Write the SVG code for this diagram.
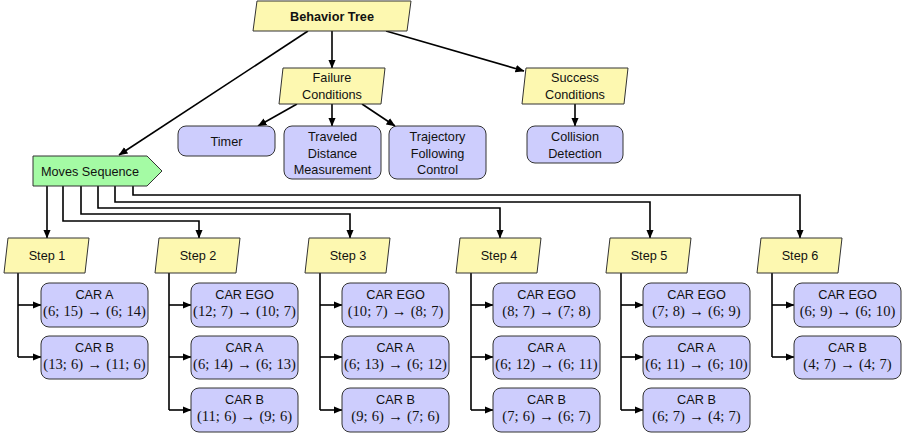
<svg xmlns="http://www.w3.org/2000/svg" width="905" height="434" viewBox="0 0 905 434">
<defs>
<marker id="ah" markerUnits="userSpaceOnUse" markerWidth="9" markerHeight="8" refX="8.5" refY="3.75" orient="auto">
<path d="M0,0 L9,3.75 L0,7.5 z" fill="#000"/>
</marker>
</defs>
<style>
.yel{fill:#fdf8b0;stroke:#333;stroke-width:1}
.blu{fill:#cdcdfd;stroke:#333;stroke-width:1}
.grn{fill:#a4fba4;stroke:#333;stroke-width:1}
.t{font-family:"Liberation Sans",Arial,sans-serif;font-size:12.7px;fill:#111;text-anchor:middle}
.b{font-weight:bold}
.m{font-family:"Liberation Serif","Times New Roman",serif;font-size:14.6px;word-spacing:0.6px;fill:#111;text-anchor:middle}
.c{fill:none;stroke:#000;stroke-width:1.6;marker-end:url(#ah)}
.l{fill:none;stroke:#000;stroke-width:1.6}
</style>
<rect width="905" height="434" fill="#fff"/>
<g id="connectors">
<path class="c" d="M332,31 V68"/>
<path class="c" d="M386,31 L524,71"/>
<path class="c" d="M308,31 L119,155"/>
<path class="c" d="M297,104 L258,126"/>
<path class="c" d="M332,104 V126"/>
<path class="c" d="M362,104 L395,126"/>
<path class="c" d="M575,104 V126"/>
<path class="c" d="M47,186 V238"/>
<path class="c" d="M63,186 V221 H199 V238"/>
<path class="c" d="M81,186 V214 H350 V238"/>
<path class="c" d="M98,186 V208 H500 V238"/>
<path class="c" d="M115,186 V202 H650 V238"/>
<path class="c" d="M133,186 V195 H800 V238"/>
<path class="l" d="M18,273 V357"/>
<path class="c" d="M18,305 H41"/>
<path class="c" d="M18,357 H41"/>
<path class="l" d="M169,273 V410"/>
<path class="c" d="M169,305 H191"/>
<path class="c" d="M169,357 H191"/>
<path class="c" d="M169,410 H191"/>
<path class="l" d="M320,273 V410"/>
<path class="c" d="M320,305 H342"/>
<path class="c" d="M320,357 H342"/>
<path class="c" d="M320,410 H342"/>
<path class="l" d="M471,273 V410"/>
<path class="c" d="M471,305 H493"/>
<path class="c" d="M471,357 H493"/>
<path class="c" d="M471,410 H493"/>
<path class="l" d="M621,273 V410"/>
<path class="c" d="M621,305 H643"/>
<path class="c" d="M621,357 H643"/>
<path class="c" d="M621,410 H643"/>
<path class="l" d="M772,273 V357"/>
<path class="c" d="M772,305 H794"/>
<path class="c" d="M772,357 H794"/>
</g>
<g id="behavior-tree"><polygon class="yel" points="257,1 411,1 407,31 253,31"/><text class="t b" x="332" y="21">Behavior Tree</text></g>
<g id="failure-conditions"><polygon class="yel" points="283,68 385,68 381,104 279,104"/><text class="t" x="332" y="82">Failure</text><text class="t" x="332" y="99">Conditions</text></g>
<g id="success-conditions"><polygon class="yel" points="526,68 628,68 624,104 522,104"/><text class="t" x="575" y="82">Success</text><text class="t" x="575" y="99">Conditions</text></g>
<g id="timer"><rect class="blu" x="178" y="126" width="97" height="30" rx="8"/><text class="t" x="226.5" y="146">Timer</text></g>
<g id="traveled-distance"><rect class="blu" x="284" y="126" width="97" height="53" rx="8"/><text class="t" x="332.5" y="141">Traveled</text><text class="t" x="332.5" y="157.5">Distance</text><text class="t" x="332.5" y="174">Measurement</text></g>
<g id="trajectory-following"><rect class="blu" x="389" y="126" width="97" height="53" rx="8"/><text class="t" x="437.5" y="141">Trajectory</text><text class="t" x="437.5" y="157.5">Following</text><text class="t" x="437.5" y="174">Control</text></g>
<g id="collision-detection"><rect class="blu" x="527" y="126" width="96" height="37" rx="8"/><text class="t" x="575" y="141">Collision</text><text class="t" x="575" y="157.5">Detection</text></g>
<g id="moves-sequence"><polygon class="grn" points="33,156 147,156 162,171 147,186 33,186"/><text class="t" x="90" y="175.5">Moves Sequence</text></g>
<g id="step1"><polygon class="yel" points="8,238 89,238 85,273 4,273"/><text class="t" x="47" y="260">Step 1</text></g>
<g id="step2"><polygon class="yel" points="159,238 240,238 236,273 155,273"/><text class="t" x="198" y="260">Step 2</text></g>
<g id="step3"><polygon class="yel" points="309,238 390,238 386,273 305,273"/><text class="t" x="348" y="260">Step 3</text></g>
<g id="step4"><polygon class="yel" points="460,238 541,238 537,273 456,273"/><text class="t" x="499" y="260">Step 4</text></g>
<g id="step5"><polygon class="yel" points="610,238 691,238 687,273 606,273"/><text class="t" x="649" y="260">Step 5</text></g>
<g id="step6"><polygon class="yel" points="761,238 842,238 838,273 757,273"/><text class="t" x="800" y="260">Step 6</text></g>
<g id="s1-car-a"><rect class="blu" x="41" y="283" width="107" height="44" rx="8"/><text class="t" x="94.5" y="299">CAR A</text><text class="m" x="94.5" y="316">(6; 15) → (6; 14)</text></g>
<g id="s1-car-b"><rect class="blu" x="41" y="336" width="107" height="43" rx="8"/><text class="t" x="94.5" y="352">CAR B</text><text class="m" x="94.5" y="369">(13; 6) → (11; 6)</text></g>
<g id="s2-car-ego"><rect class="blu" x="191" y="283" width="107" height="44" rx="8"/><text class="t" x="244.5" y="299">CAR EGO</text><text class="m" x="244.5" y="316">(12; 7) → (10; 7)</text></g>
<g id="s2-car-a"><rect class="blu" x="191" y="336" width="107" height="43" rx="8"/><text class="t" x="244.5" y="352">CAR A</text><text class="m" x="244.5" y="369">(6; 14) → (6; 13)</text></g>
<g id="s2-car-b"><rect class="blu" x="191" y="388" width="107" height="44" rx="8"/><text class="t" x="244.5" y="404">CAR B</text><text class="m" x="244.5" y="421">(11; 6) → (9; 6)</text></g>
<g id="s3-car-ego"><rect class="blu" x="342" y="283" width="107" height="44" rx="8"/><text class="t" x="395.5" y="299">CAR EGO</text><text class="m" x="395.5" y="316">(10; 7) → (8; 7)</text></g>
<g id="s3-car-a"><rect class="blu" x="342" y="336" width="107" height="43" rx="8"/><text class="t" x="395.5" y="352">CAR A</text><text class="m" x="395.5" y="369">(6; 13) → (6; 12)</text></g>
<g id="s3-car-b"><rect class="blu" x="342" y="388" width="107" height="44" rx="8"/><text class="t" x="395.5" y="404">CAR B</text><text class="m" x="395.5" y="421">(9; 6) → (7; 6)</text></g>
<g id="s4-car-ego"><rect class="blu" x="493" y="283" width="107" height="44" rx="8"/><text class="t" x="546.5" y="299">CAR EGO</text><text class="m" x="546.5" y="316">(8; 7) → (7; 8)</text></g>
<g id="s4-car-a"><rect class="blu" x="493" y="336" width="107" height="43" rx="8"/><text class="t" x="546.5" y="352">CAR A</text><text class="m" x="546.5" y="369">(6; 12) → (6; 11)</text></g>
<g id="s4-car-b"><rect class="blu" x="493" y="388" width="107" height="44" rx="8"/><text class="t" x="546.5" y="404">CAR B</text><text class="m" x="546.5" y="421">(7; 6) → (6; 7)</text></g>
<g id="s5-car-ego"><rect class="blu" x="643" y="283" width="107" height="44" rx="8"/><text class="t" x="696.5" y="299">CAR EGO</text><text class="m" x="696.5" y="316">(7; 8) → (6; 9)</text></g>
<g id="s5-car-a"><rect class="blu" x="643" y="336" width="107" height="43" rx="8"/><text class="t" x="696.5" y="352">CAR A</text><text class="m" x="696.5" y="369">(6; 11) → (6; 10)</text></g>
<g id="s5-car-b"><rect class="blu" x="643" y="388" width="107" height="44" rx="8"/><text class="t" x="696.5" y="404">CAR B</text><text class="m" x="696.5" y="421">(6; 7) → (4; 7)</text></g>
<g id="s6-car-ego"><rect class="blu" x="794" y="283" width="107" height="44" rx="8"/><text class="t" x="847.5" y="299">CAR EGO</text><text class="m" x="847.5" y="316">(6; 9) → (6; 10)</text></g>
<g id="s6-car-b"><rect class="blu" x="794" y="336" width="107" height="43" rx="8"/><text class="t" x="847.5" y="352">CAR B</text><text class="m" x="847.5" y="369">(4; 7) → (4; 7)</text></g>
</svg>
